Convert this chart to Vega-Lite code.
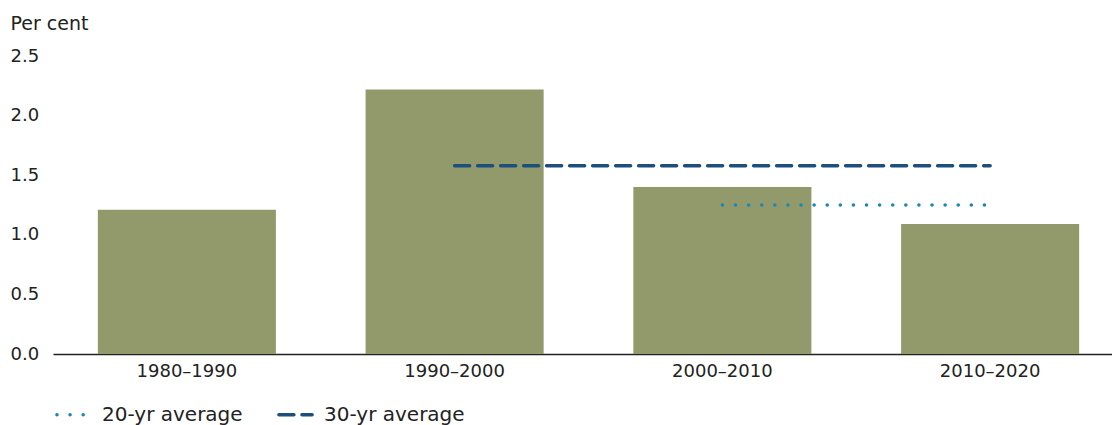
{
  "$schema": "https://vega.github.io/schema/vega-lite/v6.json",
  "width": 1071,
  "height": 298,
  "autosize": {"type": "none"},
  "padding": {"left": 53, "top": 56, "right": 0, "bottom": 71},
  "config": {"view": {"stroke": null}, "font": "DejaVu Sans"},
  "layer": [
    {
      "data": {"values": [
        {"period": "1980–1990", "value": 1.21},
        {"period": "1990–2000", "value": 2.22},
        {"period": "2000–2010", "value": 1.40},
        {"period": "2010–2020", "value": 1.09}
      ]},
      "mark": {"type": "bar", "color": "#929a6b"},
      "encoding": {
        "x": {
          "field": "period", "type": "ordinal",
          "scale": {"domain": ["1980–1990", "1990–2000", "2000–2010", "2010–2020"], "paddingInner": 0.335, "paddingOuter": 0.1675},
          "axis": {"title": null, "labelAngle": 0, "ticks": false, "domainColor": "#222222", "domainWidth": 1.5, "labelPadding": 8, "labelFontSize": 18, "labelColor": "#222222"}
        },
        "y": {
          "field": "value", "type": "quantitative",
          "scale": {"domain": [0, 2.5], "nice": false},
          "axis": {"values": [0, 0.5, 1, 1.5, 2, 2.5], "format": ".1f", "grid": false, "domain": false, "ticks": false, "labelAlign": "left", "labelBaseline": "middle", "labelPadding": 43, "labelFontSize": 18, "labelColor": "#222222", "title": "Per cent", "titleAngle": 0, "titleAlign": "left", "titleBaseline": "middle", "titleX": -43, "titleY": -33, "titleFontSize": 19, "titleFontWeight": "normal", "titleColor": "#222222"}
        }
      }
    },
    {
      "data": {"values": [
        {"series": "20-yr average", "start": "2000–2010", "end": "2010–2020", "value": 1.25},
        {"series": "30-yr average", "start": "1990–2000", "end": "2010–2020", "value": 1.58}
      ]},
      "mark": {"type": "rule", "strokeWidth": 3.5, "strokeCap": "round"},
      "encoding": {
        "x": {"field": "start", "type": "ordinal"},
        "x2": {"field": "end"},
        "y": {"field": "value", "type": "quantitative"},
        "stroke": {
          "field": "series", "type": "nominal",
          "scale": {"domain": ["20-yr average", "30-yr average"], "range": ["#1b88b3", "#1d4f7c"]},
          "legend": {"title": null, "orient": "none", "legendX": 2, "legendY": 340, "direction": "horizontal", "symbolType": "stroke", "symbolSize": 1100, "symbolStrokeWidth": 3.5, "labelFontSize": 20, "labelColor": "#222222", "labelOffset": 10, "columnPadding": 28, "encode": {"symbols": {"update": {"strokeCap": {"value": "round"}}}}}
        },
        "strokeDash": {
          "field": "series", "type": "nominal",
          "scale": {"domain": ["20-yr average", "30-yr average"], "range": [[0.1, 13], [15, 8]]},
          "legend": {"title": null, "orient": "none", "legendX": 2, "legendY": 340, "direction": "horizontal", "symbolType": "stroke", "symbolSize": 1100, "symbolStrokeWidth": 3.5, "labelFontSize": 20, "labelColor": "#222222", "labelOffset": 10, "columnPadding": 28, "encode": {"symbols": {"update": {"strokeCap": {"value": "round"}}}}}
        }
      }
    }
  ]
}
